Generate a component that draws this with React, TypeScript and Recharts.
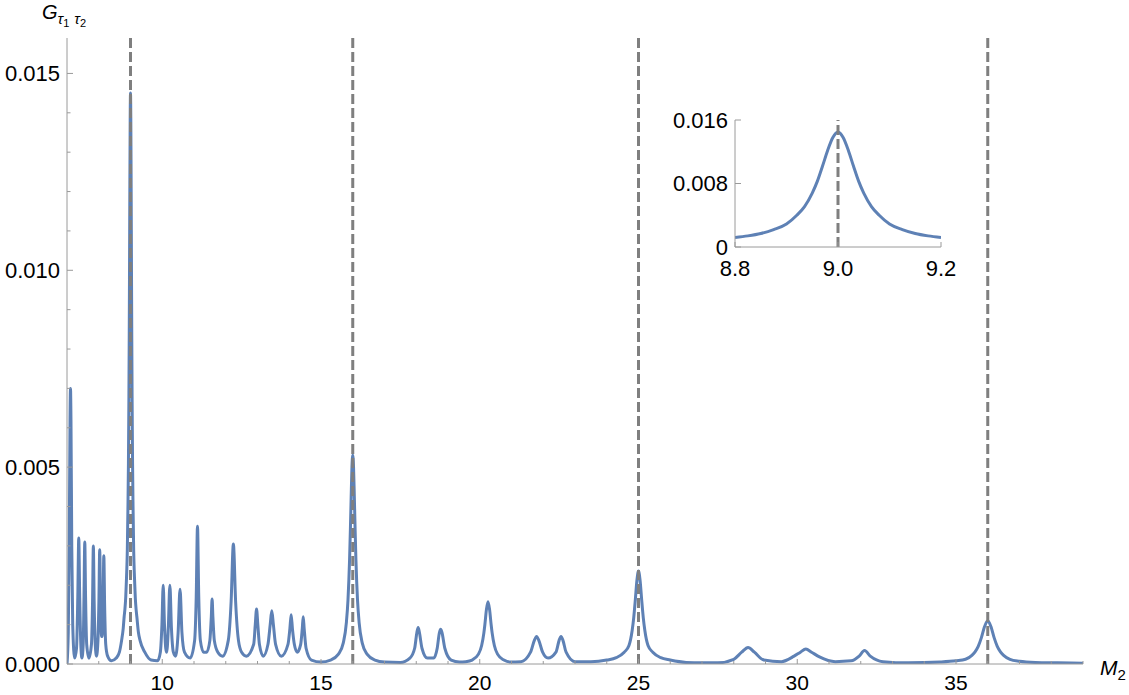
import { LineChart, Line, XAxis, YAxis, ReferenceLine } from 'recharts'

// points: [M2, G]
const mainCurve: [number, number][] = [
  [7.0, 0], [7.04, 0.0008], [7.07, 0.003], [7.095, 0.0062], [7.11, 0.007], [7.125, 0.0062],
  [7.15, 0.003], [7.18, 0.001], [7.24, 0.00015],
  [7.3, 0.0004], [7.34, 0.0017], [7.37, 0.0032], [7.4, 0.0017], [7.44, 0.0004], [7.47, 0.00015],
  [7.51, 0.0005], [7.535, 0.0017], [7.56, 0.0031], [7.585, 0.0017], [7.62, 0.0005], [7.69, 0.00015],
  [7.77, 0.0005], [7.805, 0.0016], [7.83, 0.003], [7.855, 0.0016], [7.89, 0.0005], [7.93, 0.0002],
  [7.975, 0.0006], [8.005, 0.0016], [8.03, 0.0029], [8.055, 0.0016], [8.09, 0.0007], [8.105, 0.0007],
  [8.135, 0.0015], [8.16, 0.00275], [8.185, 0.0015], [8.22, 0.0005], [8.28, 0.0002], [8.4, 0.00008],
  [8.55, 0.00015], [8.65, 0.0003], [8.72, 0.0006], [8.77, 0.0009],
  [8.8, 0.0012], [8.825, 0.0014], [8.85, 0.0017], [8.875, 0.0022], [8.9, 0.0029], [8.92, 0.004],
  [8.935, 0.0051], [8.95, 0.0068], [8.96, 0.0083], [8.97, 0.0102], [8.98, 0.0122], [8.99, 0.0138],
  [9.0, 0.0145], [9.01, 0.0138], [9.02, 0.0122], [9.03, 0.0102], [9.04, 0.0083], [9.05, 0.0068],
  [9.065, 0.0051], [9.08, 0.004], [9.1, 0.0029], [9.125, 0.0022], [9.15, 0.0017], [9.175, 0.0014],
  [9.2, 0.0012], [9.25, 0.0008], [9.3, 0.0006], [9.45, 0.0003], [9.65, 0.0001], [9.85, 0.00008],
  [9.94, 0.0003], [9.99, 0.001], [10.03, 0.002], [10.07, 0.001], [10.11, 0.0004], [10.14, 0.0003],
  [10.19, 0.0009], [10.24, 0.002], [10.29, 0.0009], [10.35, 0.0003], [10.42, 0.0002],
  [10.5, 0.0008], [10.56, 0.0019], [10.62, 0.0008], [10.7, 0.0003], [10.88, 0.00015],
  [11.02, 0.0006], [11.07, 0.0017], [11.11, 0.0035], [11.15, 0.0017], [11.2, 0.0006], [11.3, 0.0003],
  [11.4, 0.0003], [11.5, 0.0006], [11.545, 0.0012], [11.57, 0.00165], [11.595, 0.0012], [11.64, 0.0006],
  [11.75, 0.0003], [11.9, 0.0002],
  [12.08, 0.0006], [12.17, 0.0016], [12.24, 0.00305], [12.31, 0.0016], [12.4, 0.0006], [12.5, 0.0003],
  [12.65, 0.0002], [12.88, 0.0005], [12.93, 0.001], [12.97, 0.0014], [13.01, 0.001], [13.06, 0.0005],
  [13.18, 0.0002], [13.33, 0.0005], [13.4, 0.001], [13.45, 0.00135], [13.5, 0.001], [13.57, 0.0005],
  [13.75, 0.0002], [13.96, 0.0005], [14.02, 0.0009], [14.06, 0.00125], [14.1, 0.0009], [14.16, 0.0005],
  [14.25, 0.0003], [14.36, 0.0005], [14.41, 0.0009], [14.44, 0.0012], [14.47, 0.0009], [14.53, 0.0004],
  [14.7, 0.0001], [15.0, 0.00005], [15.3, 0.0001], [15.55, 0.00025],
  [15.7, 0.00053], [15.8, 0.00106], [15.85, 0.00163], [15.9, 0.00265], [15.925, 0.0034], [15.95, 0.00424],
  [15.975, 0.005], [16.0, 0.0053], [16.025, 0.005], [16.05, 0.00424], [16.075, 0.0034], [16.1, 0.00265],
  [16.15, 0.00163], [16.2, 0.00106], [16.3, 0.00053], [16.45, 0.00025], [16.7, 0.0001], [17.0, 0.00005],
  [17.5, 0.00004],
  [17.8, 0.00015], [17.95, 0.0004], [18.02, 0.0008], [18.06, 0.00093], [18.1, 0.0008], [18.18, 0.0004],
  [18.35, 0.00015], [18.55, 0.00015], [18.66, 0.0004], [18.73, 0.0008], [18.77, 0.00088], [18.81, 0.0008],
  [18.9, 0.0004], [19.1, 0.0001], [19.36, 0.00005], [19.56, 0.00006], [19.76, 0.0001],
  [19.96, 0.00025], [20.06, 0.00047], [20.13, 0.00079], [20.16, 0.00099], [20.21, 0.00138], [20.26, 0.00158],
  [20.31, 0.00138], [20.36, 0.00099], [20.39, 0.00079], [20.46, 0.00047], [20.56, 0.00025], [20.76, 0.0001],
  [20.96, 0.00005], [21.3, 0.00006],
  [21.6, 0.0003], [21.72, 0.0006], [21.79, 0.0007], [21.86, 0.0006], [21.98, 0.0003], [22.15, 0.00015],
  [22.4, 0.0003], [22.5, 0.0006], [22.56, 0.0007], [22.62, 0.0006], [22.72, 0.0003], [23.0, 0.00006],
  [23.5, 0.00006], [24.0, 0.0001], [24.3, 0.00016],
  [24.55, 0.0003], [24.7, 0.00047], [24.8, 0.00085], [24.85, 0.00118], [24.9, 0.00163], [24.95, 0.00212],
  [25.0, 0.00236], [25.05, 0.00212], [25.1, 0.00163], [25.15, 0.00118], [25.2, 0.00085], [25.3, 0.00047],
  [25.45, 0.0003], [25.7, 0.00016], [26.0, 0.0001], [26.5, 0.00004], [27.0, 0.00003], [27.5, 0.00003],
  [28.0, 0.00012], [28.25, 0.0003], [28.45, 0.00042], [28.65, 0.0003], [28.95, 0.0001], [29.5, 0.00006],
  [29.9, 0.0002], [30.1, 0.0003], [30.27, 0.00038], [30.45, 0.0003], [30.7, 0.00018], [31.2, 0.00006],
  [31.7, 0.00008], [31.95, 0.0002], [32.12, 0.00034], [32.3, 0.0002], [32.7, 0.00006], [33.5, 0.00003],
  [34.5, 0.00005], [35.0, 0.00008], [35.3, 0.00012], [35.5, 0.00022], [35.6, 0.00031], [35.7, 0.00045],
  [35.8, 0.00067], [35.9, 0.00095], [36.0, 0.0011], [36.1, 0.00095], [36.2, 0.00067], [36.3, 0.00045],
  [36.4, 0.00031], [36.5, 0.00022], [36.7, 0.00012], [37.0, 0.00007], [37.5, 0.00004], [38.2, 0.00003],
  [39.0, 0.00002],
]

// zoom on the M2 = 9 resonance
const insetCurve: [number, number][] = [
  [8.8, 0.0012], [8.825, 0.0014], [8.85, 0.0017], [8.875, 0.0022], [8.9, 0.0029], [8.92, 0.004],
  [8.935, 0.0051], [8.95, 0.0068], [8.96, 0.0083], [8.97, 0.0102], [8.98, 0.0122], [8.99, 0.0138],
  [9.0, 0.0145], [9.01, 0.0138], [9.02, 0.0122], [9.03, 0.0102], [9.04, 0.0083], [9.05, 0.0068],
  [9.065, 0.0051], [9.08, 0.004], [9.1, 0.0029], [9.125, 0.0022], [9.15, 0.0017], [9.175, 0.0014],
  [9.2, 0.0012],
]

const resonances = [9, 16, 25, 36]

const mainXTicks = [8, 9, 10, 11, 12, 13, 14, 15, 16, 17, 18, 19, 20, 21, 22, 23, 24, 25, 26, 27, 28, 29, 30, 31, 32, 33, 34, 35, 36, 37, 38, 39]
const mainXLabels = [10, 15, 20, 25, 30, 35]
const mainYTicks = [0, 0.001, 0.002, 0.003, 0.004, 0.005, 0.006, 0.007, 0.008, 0.009, 0.01, 0.011, 0.012, 0.013, 0.014, 0.015]
const mainYLabels = [0, 0.005, 0.01, 0.015]
const insetXTicks = [8.8, 9.0, 9.2]
const insetYTicks = [0, 0.008, 0.016]

const BLUE = '#5E81B5'
const AXIS = '#9a9a9a'
const DASH = '#7f7f7f'
const FONT = '"Liberation Sans", Arial, Helvetica, sans-serif'

const isIn = (list: number[], v: number) => list.some(l => Math.abs(l - v) < 1e-9)

function makeXTick(labels: number[], fmt: (v: number) => string, drop: number, size: number) {
  return (props: any) => {
    const { x, y, payload } = props
    const v = payload.value
    const major = isIn(labels, v)
    return (
      <g>
        <line x1={x} x2={x} y1={y} y2={y - (major ? 5 : 3)} stroke={AXIS} strokeWidth={1} />
        {major && (
          <text x={x} y={y + drop} textAnchor="middle" fontSize={size} fontFamily={FONT} fill="#000">
            {fmt(v)}
          </text>
        )}
      </g>
    )
  }
}

function makeYTick(labels: number[], fmt: (v: number) => string) {
  return (props: any) => {
    const { x, y, payload } = props
    const v = payload.value
    const major = isIn(labels, v)
    return (
      <g>
        <line x1={x} x2={x + (major ? 6 : 3.5)} y1={y} y2={y} stroke={AXIS} strokeWidth={1} />
        {major && (
          <text x={x - 7} y={y} textAnchor="end" dominantBaseline="central" fontSize={22} fontFamily={FONT} fill="#000">
            {fmt(v)}
          </text>
        )}
      </g>
    )
  }
}

export default function App() {
  const mainData = mainCurve.map(([m, g]) => ({ m, g }))
  const insetData = insetCurve.map(([m, g]) => ({ m, g }))

  return (
    <div style={{ position: 'absolute', left: 0, top: 0, width: 1129, height: 695, background: '#fff' }}>
      <LineChart width={1129} height={695} data={mainData} margin={{ top: 38, right: 46, bottom: 0, left: 0 }}>
        <XAxis
          dataKey="m"
          type="number"
          domain={[7, 39]}
          ticks={mainXTicks}
          interval={0}
          height={31}
          tickSize={0}
          tickMargin={0}
          tickLine={false}
          axisLine={{ stroke: AXIS }}
          tick={makeXTick(mainXLabels, v => String(v), 26, 21)}
          allowDataOverflow
        />
        <YAxis
          type="number"
          domain={[0, 0.0159]}
          ticks={mainYTicks}
          interval={0}
          width={67}
          tickSize={0}
          tickMargin={0}
          tickLine={false}
          axisLine={{ stroke: AXIS }}
          tick={makeYTick(mainYLabels, v => v.toFixed(3))}
          allowDataOverflow
        />
        <Line
          type="monotone"
          dataKey="g"
          stroke={BLUE}
          strokeWidth={3}
          dot={false}
          activeDot={false}
          isAnimationActive={false}
        />
        {resonances.map(r => (
          <ReferenceLine key={r} x={r} stroke={DASH} strokeWidth={3} strokeDasharray="10 4" />
        ))}
      </LineChart>

      <div style={{ position: 'absolute', left: 660, top: 100, width: 300, height: 190 }}>
        <LineChart width={300} height={190} data={insetData} margin={{ top: 20, right: 19, bottom: 0, left: 0 }}>
          <XAxis
            dataKey="m"
            type="number"
            domain={[8.8, 9.2]}
            ticks={insetXTicks}
            interval={0}
            height={43}
            tickSize={0}
            tickMargin={0}
            tickLine={false}
            axisLine={{ stroke: AXIS }}
            tick={makeXTick(insetXTicks, v => v.toFixed(1), 29, 22)}
            allowDataOverflow
          />
          <YAxis
            type="number"
            domain={[0, 0.016]}
            ticks={insetYTicks}
            interval={0}
            width={75}
            tickSize={0}
            tickMargin={0}
            tickLine={false}
            axisLine={{ stroke: AXIS }}
            tick={makeYTick(insetYTicks, v => (v === 0 ? '0' : v.toFixed(3)))}
            allowDataOverflow
          />
          <Line
            type="monotone"
            dataKey="g"
            stroke={BLUE}
            strokeWidth={3}
            dot={false}
            activeDot={false}
            isAnimationActive={false}
          />
          {resonances.filter(r => r >= 8.8 && r <= 9.2).map(r => (
            <ReferenceLine key={r} x={r} stroke={DASH} strokeWidth={3} strokeDasharray="10 4" />
          ))}
        </LineChart>
      </div>

      <svg width={1129} height={695} style={{ position: 'absolute', left: 0, top: 0, pointerEvents: 'none' }}>
        <text x={42} y={19} fontFamily={FONT} fontSize={20} fontStyle="italic" fill="#000">
          G
          <tspan fontSize={15} dy={5}>τ</tspan>
          <tspan fontSize={11} fontStyle="normal" dy={3}>1</tspan>
          <tspan fontSize={15} dy={-3} dx={5}>τ</tspan>
          <tspan fontSize={11} fontStyle="normal" dy={3}>2</tspan>
        </text>
        <text x={1100} y={675} fontFamily={FONT} fontSize={21} fontStyle="italic" fill="#000">
          M
          <tspan fontSize={15} fontStyle="normal" dy={5}>2</tspan>
        </text>
      </svg>
    </div>
  )
}
